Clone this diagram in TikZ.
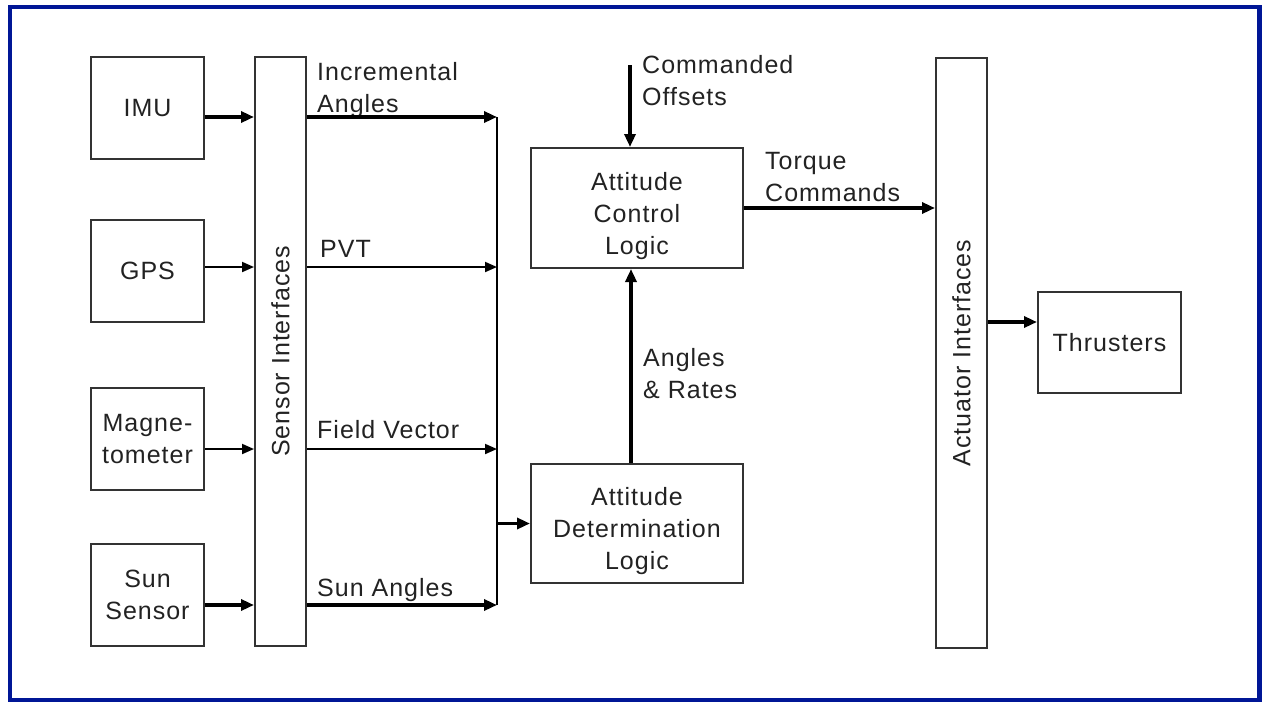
\documentclass[tikz,border=0pt]{standalone}
\usepackage{fontspec}
\setmainfont{Liberation Sans}[LetterSpace=4]
\usetikzlibrary{arrows.meta}
\definecolor{frameblue}{RGB}{0,22,150}
\definecolor{boxgray}{RGB}{51,51,51}
\definecolor{txtgray}{RGB}{34,34,34}

\begin{document}
\begin{tikzpicture}[x=1pt,y=-1pt,
    every node/.style={font=\fontsize{25}{32}\selectfont, text=txtgray},
    blk/.style={draw=boxgray, line width=2pt, align=center, inner sep=0pt},
    bar/.style={draw=boxgray, line width=2pt, minimum width=51, inner sep=0pt},
    lbl/.style={anchor=north west, align=left, inner sep=0pt},
    hvy/.style={-{Triangle[length=13pt,width=11pt]}, line width=3.4pt},
    lgt/.style={-{Triangle[length=12pt,width=10pt]}, line width=1.9pt}]
  \useasboundingbox (0,0) rectangle (1262,702);
  \draw[frameblue, line width=4.5pt] (10,7) rectangle (1259.5,700);

  \node[blk, minimum width=113, minimum height=102] (imu) at (147.5,108) {IMU};
  \node[blk, minimum width=113, minimum height=102] (gps) at (147.5,271) {GPS};
  \node[blk, minimum width=113, minimum height=102] (mag) at (147.5,439) {Magne-\\tometer};
  \node[blk, minimum width=113, minimum height=102] (sun) at (147.5,595) {Sun\\Sensor};
  \node[bar, minimum height=589,
    label={[rotate=90]center:Sensor Interfaces}] (sens) at (280.5,351.5) {};

  \node[blk, minimum width=212, minimum height=120,
    label={[align=center,yshift=-8pt]center:Attitude\\Control\\Logic}] (acl) at (637,208) {};
  \node[blk, minimum width=212, minimum height=119,
    label={[align=center,yshift=-8pt]center:Attitude\\Determination\\Logic}] (adl) at (637,523.5) {};

  \node[bar, minimum height=590,
    label={[rotate=90]center:Actuator Interfaces}] (act) at (961.5,353) {};
  \node[blk, minimum width=143, minimum height=101] (thr) at (1109.5,342.5) {Thrusters};

  \node[lbl] (incr) at (317,62) {Incremental\\Angles};
  \node[lbl] (pvt) at (320,240) {PVT};
  \node[lbl] (fvec) at (317,420) {Field Vector};
  \node[lbl] (sunang) at (317,578) {Sun Angles};
  \node[lbl] (cmdoff) at (642,55) {Commanded\\Offsets};
  \node[lbl] (torq) at (765,152) {Torque\\Commands};
  \node[lbl] (angrate) at (643,348) {Angles\\\& Rates};

  \coordinate (r1) at (0,117);
  \coordinate (r2) at (0,267);
  \coordinate (r3) at (0,449);
  \coordinate (r4) at (0,605);
  \coordinate (r5) at (0,322);
  \coordinate (bus) at (497,0);
  \coordinate (mid) at (631,0);
  \coordinate (cmdin) at (630,65);

  \draw[hvy] (imu.east |- r1) -- (sens.west |- r1);
  \draw[lgt] (gps.east |- r2) -- (sens.west |- r2);
  \draw[lgt] (mag.east |- r3) -- (sens.west |- r3);
  \draw[hvy] (sun.east |- r4) -- (sens.west |- r4);

  \draw[hvy] (sens.east |- r1) -- (bus |- r1);
  \draw[lgt] (sens.east |- r2) -- (bus |- r2);
  \draw[lgt] (sens.east |- r3) -- (bus |- r3);
  \draw[hvy] (sens.east |- r4) -- (bus |- r4);
  \draw[line width=2.2pt] (bus |- r1) -- (bus |- r4);
  \draw[hvy] (bus |- adl.west) -- (adl.west);

  \draw[hvy] (adl.north -| mid) -- (acl.south -| mid);
  \draw[hvy] (cmdin) -- (acl.north -| cmdin);
  \draw[hvy] (acl.east) -- (acl.east -| act.west);
  \draw[hvy] (act.east |- r5) -- (thr.west |- r5);
\end{tikzpicture}
\end{document}
